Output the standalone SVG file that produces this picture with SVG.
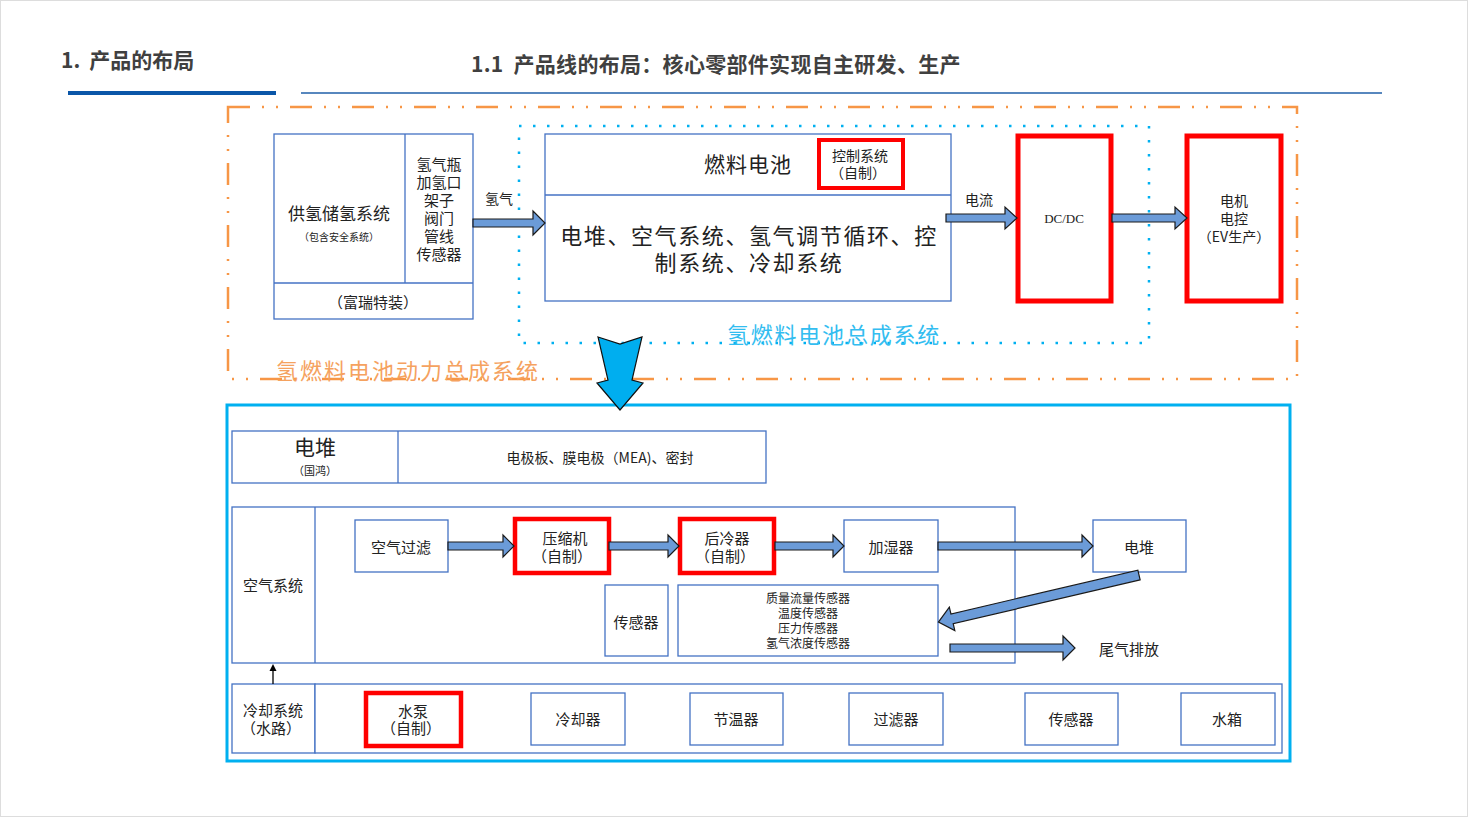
<svg xmlns="http://www.w3.org/2000/svg" width="1468" height="817" viewBox="0 0 1468 817">
<defs>
<style>
text{font-family:"Noto Sans CJK SC","Liberation Serif",sans-serif;fill:#222;text-anchor:middle;dominant-baseline:central}
.t{font-size:15px}
.s{font-size:12px}
.box{fill:#fff;stroke:#4472c4;stroke-width:1.3}
.red{fill:#fff;stroke:#ff0000;stroke-width:5}
.arr{fill:#6b9bd8;stroke:#1a1a1a;stroke-width:1.2}
.hd{font-weight:bold;fill:#404040;text-anchor:start;font-size:21px}
</style>
</defs>
<rect x="0.5" y="0.5" width="1467" height="816" fill="#fff" stroke="#ddd"/>
<g id="header">
<text class="hd" x="61" y="59">1.<tspan dx="9">产品的布局</tspan></text>
<rect x="68" y="91" width="208" height="4" fill="#0a56a8"/>
<line x1="301" y1="93" x2="1382" y2="93" stroke="#1f5fa8" stroke-width="1.5"/>
<text class="hd" x="471" y="63" style="letter-spacing:0.3px">1.1<tspan dx="10">产品线的布局：核心零部件实现自主研发、生产</tspan></text>
</g>
<g id="powertrain-frame">
<rect x="228" y="107" width="1069" height="272" fill="none" stroke="#f79646" stroke-width="2.5" stroke-dasharray="22 12 2 12 2 12"/>
<text x="408" y="369" style="font-size:22px;letter-spacing:2px;fill:#f5a25f">氢燃料电池动力总成系统</text>
</g>
<g id="fc-system-frame">
<rect x="519" y="126" width="630" height="217" fill="none" stroke="#00b0f0" stroke-width="2.5" stroke-dasharray="2.5 11.5"/>
<text x="834" y="333" style="font-size:22px;letter-spacing:1.8px;fill:#33bdf0">氢燃料电池总成系统</text>
</g>
<g id="h2-supply">
<rect class="box" x="274" y="134" width="199" height="185"/>
<line x1="405" y1="134" x2="405" y2="283" stroke="#4472c4" stroke-width="1.3"/>
<line x1="274" y1="283" x2="473" y2="283" stroke="#4472c4" stroke-width="1.3"/>
<text x="339" y="212" style="font-size:17px">供氢储氢系统</text>
<text x="339" y="236" style="font-size:10px">（包含安全系统）</text>
<text class="t"><tspan x="439" y="163">氢气瓶</tspan><tspan x="439" y="181">加氢口</tspan><tspan x="439" y="199">架子</tspan><tspan x="439" y="217">阀门</tspan><tspan x="439" y="235">管线</tspan><tspan x="439" y="253">传感器</tspan></text>
<text class="t" x="373" y="301">（富瑞特装）</text>
</g>
<g id="fuel-cell">
<rect class="box" x="545" y="134" width="406" height="167"/>
<line x1="545" y1="195" x2="951" y2="195" stroke="#4472c4" stroke-width="1.3"/>
<text x="748" y="163" style="font-size:21px;letter-spacing:1px">燃料电池</text>
<text style="font-size:22px;letter-spacing:1.6px"><tspan x="749" y="234">电堆、空气系统、氢气调节循环、控</tspan><tspan x="749" y="261">制系统、冷却系统</tspan></text>
</g>
<g id="control-system">
<rect class="red" x="819" y="140" width="84" height="48" style="stroke-width:4"/>
<text style="font-size:14px"><tspan x="860" y="155">控制系统</tspan><tspan x="858" y="172">（自制）</tspan></text>
</g>
<g id="dcdc">
<rect class="red" x="1018" y="136" width="93" height="165"/>
<text x="1064" y="218" style="font-size:13px;font-family:'Liberation Serif',serif">DC/DC</text>
</g>
<g id="motor">
<rect class="red" x="1187" y="136" width="94" height="165"/>
<text style="font-size:14px"><tspan x="1234" y="200">电机</tspan><tspan x="1234" y="218">电控</tspan><tspan x="1234" y="236">（EV生产）</tspan></text>
</g>
<g id="lower-frame">
<rect x="227" y="405" width="1063" height="356" fill="none" stroke="#00b0f0" stroke-width="3"/>
</g>
<g id="stack">
<rect class="box" x="232" y="431" width="534" height="52"/>
<line x1="398" y1="431" x2="398" y2="483" stroke="#4472c4" stroke-width="1.3"/>
<text x="315" y="446" style="font-size:21px">电堆</text>
<text x="315" y="470" style="font-size:11px">（国鸿）</text>
<text x="600" y="457" style="font-size:14px">电极板、膜电极（MEA)、密封</text>
</g>
<g id="air-system">
<rect class="box" x="232" y="507" width="783" height="156"/>
<line x1="315" y1="507" x2="315" y2="663" stroke="#4472c4" stroke-width="1.3"/>
<text class="t" x="273" y="584">空气系统</text>
</g>
<g id="air-filter"><rect class="box" x="355" y="520" width="93" height="52"/><text class="t" x="401" y="546">空气过滤</text></g>
<g id="compressor"><rect class="red" x="515" y="519" width="94" height="54" style="stroke-width:4.5"/><text class="t"><tspan x="565" y="537">压缩机</tspan><tspan x="562" y="555">（自制）</tspan></text></g>
<g id="aftercooler"><rect class="red" x="680" y="519" width="94" height="54" style="stroke-width:4.5"/><text class="t"><tspan x="727" y="537">后冷器</tspan><tspan x="725" y="555">（自制）</tspan></text></g>
<g id="humidifier"><rect class="box" x="844" y="520" width="94" height="52"/><text class="t" x="891" y="546">加湿器</text></g>
<g id="air-stack"><rect class="box" x="1093" y="520" width="93" height="52"/><text class="t" x="1139" y="546">电堆</text></g>
<g id="air-sensor"><rect class="box" x="605" y="585" width="63" height="71"/><text class="t" x="636" y="621">传感器</text></g>
<g id="sensor-list"><rect class="box" x="678" y="585" width="260" height="71"/>
<text class="s"><tspan x="808" y="597">质量流量传感器</tspan><tspan x="808" y="612">温度传感器</tspan><tspan x="808" y="627">压力传感器</tspan><tspan x="808" y="642">氢气浓度传感器</tspan></text></g>
<g id="exhaust"><text class="t" x="1129" y="648">尾气排放</text></g>
<g id="cooling-system">
<rect class="box" x="232" y="684" width="83" height="69"/>
<rect class="box" x="315" y="684" width="967" height="69"/>
<text class="t"><tspan x="273" y="709">冷却系统</tspan><tspan x="271" y="727">（水路）</tspan></text>
</g>
<g id="pump"><rect class="red" x="366" y="693" width="95" height="53" style="stroke-width:4.5"/><text class="t"><tspan x="413" y="710">水泵</tspan><tspan x="411" y="727">（自制）</tspan></text></g>
<g id="cooler"><rect class="box" x="531" y="693" width="94" height="52"/><text class="t" x="578" y="718">冷却器</text></g>
<g id="thermostat"><rect class="box" x="690" y="693" width="93" height="52"/><text class="t" x="736" y="718">节温器</text></g>
<g id="filter"><rect class="box" x="849" y="693" width="94" height="52"/><text class="t" x="896" y="718">过滤器</text></g>
<g id="cool-sensor"><rect class="box" x="1025" y="693" width="93" height="52"/><text class="t" x="1071" y="718">传感器</text></g>
<g id="tank"><rect class="box" x="1181" y="693" width="94" height="52"/><text class="t" x="1227" y="718">水箱</text></g>
<g id="connectors">
<path class="arr" d="M473,219 H533 V211 L545,223 L533,235 V227 H473 Z"/>
<text x="499" y="198" style="font-size:14px">氢气</text>
<path class="arr" d="M946,214 H1005 V207 L1017,218 L1005,229 V222 H946 Z"/>
<text x="979" y="199" style="font-size:14px">电流</text>
<path class="arr" d="M1112,214 H1175 V207 L1187,218 L1175,229 V222 H1112 Z"/>
<path d="M598,337 L620,344 L642,337 L632,380 L643,383 L620,410 L597,383 L608,380 Z" fill="#00aeef" stroke="#111" stroke-width="1.2"/>
<path class="arr" d="M448,542 H503 V535 L514,546 L503,557 V550 H448 Z"/>
<path class="arr" d="M609,542 H668 V535 L679,546 L668,557 V550 H609 Z"/>
<path class="arr" d="M775,542 H833 V535 L844,546 L833,557 V550 H775 Z"/>
<path class="arr" d="M938,542 H1082 V535 L1093,546 L1082,557 V550 H938 Z"/>
<path class="arr" transform="translate(1139,575) rotate(166.8)" d="M0,-5 H192 V-12 L206,0 L192,12 V5 H0 Z"/>
<path class="arr" d="M950,644 H1063 V636 L1075,648 L1063,660 V652 H950 Z"/>
<line x1="273" y1="684" x2="273" y2="670" stroke="#000" stroke-width="1.3"/>
<path d="M269.5,671 L273,664 L276.5,671 Z" fill="#000"/>
</g>
</svg>
